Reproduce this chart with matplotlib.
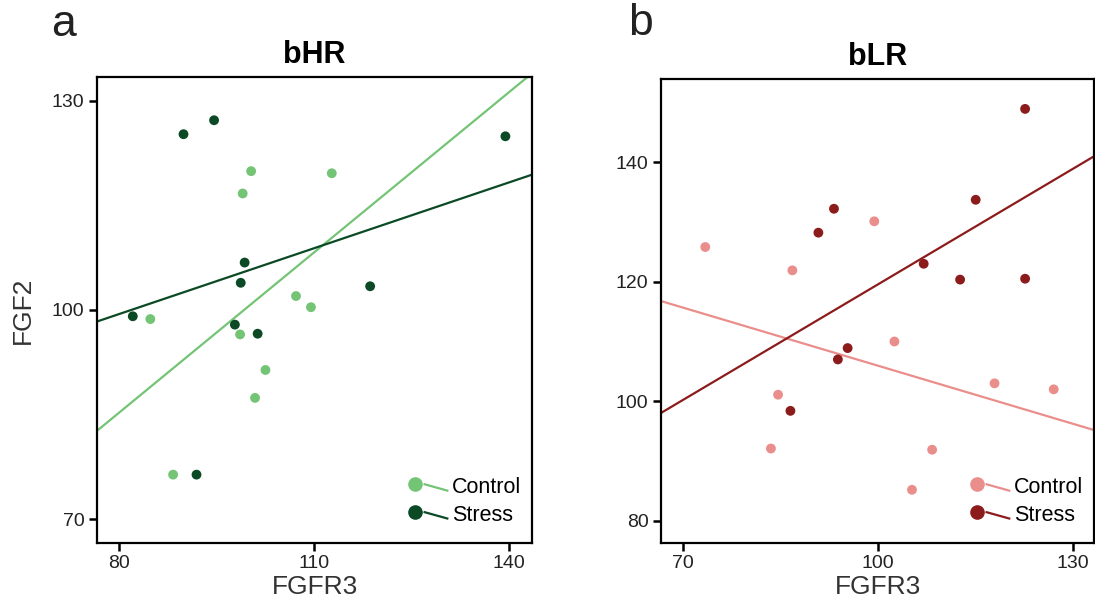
import numpy as np
import matplotlib
matplotlib.use("Agg")
import matplotlib.pyplot as plt
from matplotlib.legend_handler import HandlerBase
from matplotlib.lines import Line2D

plt.rcParams["font.family"] = ["Liberation Sans", "DejaVu Sans"]

# bHR: FGFR3 (x) vs FGF2 (y)
hr_ctrl_x = [100.3, 112.7, 99.0, 107.2, 109.5, 84.8, 98.6, 102.5, 100.9, 88.3]
hr_ctrl_y = [119.9, 119.6, 116.7, 102.0, 100.4, 98.7, 96.5, 91.4, 87.4, 76.4]
hr_str_x = [89.9, 94.6, 139.4, 99.3, 98.7, 118.6, 82.1, 97.8, 101.3, 91.9]
hr_str_y = [125.2, 127.2, 124.9, 106.8, 103.9, 103.4, 99.1, 97.9, 96.6, 76.4]

# bLR
lr_ctrl_x = [73.5, 86.9, 99.5, 102.6, 84.7, 118.0, 127.1, 83.6, 108.4, 105.3]
lr_ctrl_y = [125.8, 121.9, 130.1, 110.0, 101.1, 103.0, 102.0, 92.1, 91.9, 85.2]
lr_str_x = [122.7, 115.1, 93.3, 90.9, 107.1, 112.7, 122.7, 95.4, 93.9, 86.6]
lr_str_y = [148.9, 133.7, 132.2, 128.2, 123.0, 120.35, 120.5, 108.9, 107.0, 98.4]

groups = ["Control", "Stress"]


class DotLine(HandlerBase):
    """Legend key: a dot with a short slanted fit line trailing off it."""

    def create_artists(self, legend, orig_handle, xdescent, ydescent,
                       width, height, fontsize, trans):
        c = orig_handle.get_color()
        cy = height * 0.6 - ydescent
        dot = Line2D([width * 0.12], [cy], marker="o", markersize=9.5,
                     color=c, linestyle="none", transform=trans)
        seg = Line2D([width * 0.38, width * 1.0], [cy, cy - height * 0.42],
                     color=c, linewidth=1.6, transform=trans)
        return [dot, seg]


def panel(ax, xs, ys, colors, xlim, ylim, xticks, yticks, title):
    handles = []
    for x, y, c in zip(xs, ys, colors):
        ax.scatter(x, y, s=50, color=c, edgecolors="none", zorder=3)
        k, b = np.polyfit(x, y, 1)
        gx = np.array(xlim)
        ax.plot(gx, k * gx + b, color=c, linewidth=1.6, zorder=2)
        handles.append(Line2D([], [], color=c))
    ax.set_xlim(*xlim)
    ax.set_ylim(*ylim)
    ax.set_xticks(xticks)
    ax.set_yticks(yticks)
    ax.tick_params(direction="out", length=6, width=1.8, labelsize=14,
                   labelcolor="#222222", pad=3)
    for sp in ax.spines.values():
        sp.set_linewidth(1.6)
    ax.set_title(title, fontsize=22, fontweight="bold", pad=10)
    ax.set_xlabel("FGFR3", fontsize=19, color="#333333", labelpad=2)
    ax.legend(handles, groups, handler_map={Line2D: DotLine()},
              loc="lower right", bbox_to_anchor=(1.0, 0.012),
              frameon=False, fontsize=15.5,
              handlelength=1.7, handletextpad=0.2, labelspacing=0.32,
              borderaxespad=0.12)


fig = plt.figure(figsize=(10.95, 6.11), dpi=100)
ax_a = fig.add_axes([0.0886, 0.1113, 0.3973, 0.7627])
ax_b = fig.add_axes([0.6037, 0.1113, 0.3954, 0.7594])

panel(ax_a, [hr_ctrl_x, hr_str_x], [hr_ctrl_y, hr_str_y],
      ["#74c476", "#0b4a24"], (76.6, 143.5), (66.6, 133.4),
      [80, 110, 140], [70, 100, 130], "bHR")
ax_a.set_ylabel("FGF2", fontsize=19, color="#333333", labelpad=12)

panel(ax_b, [lr_ctrl_x, lr_str_x], [lr_ctrl_y, lr_str_y],
      ["#ea8e8c", "#8c1c1c"], (66.7, 133.3), (76.3, 153.9),
      [70, 100, 130], [80, 100, 120, 140], "bLR")

fig.text(0.047, 0.941, "a", fontsize=32, color="#222222", va="baseline")
fig.text(0.5735, 0.943, "b", fontsize=32, color="#222222", va="baseline")

fig.savefig("out.png", dpi=100)
